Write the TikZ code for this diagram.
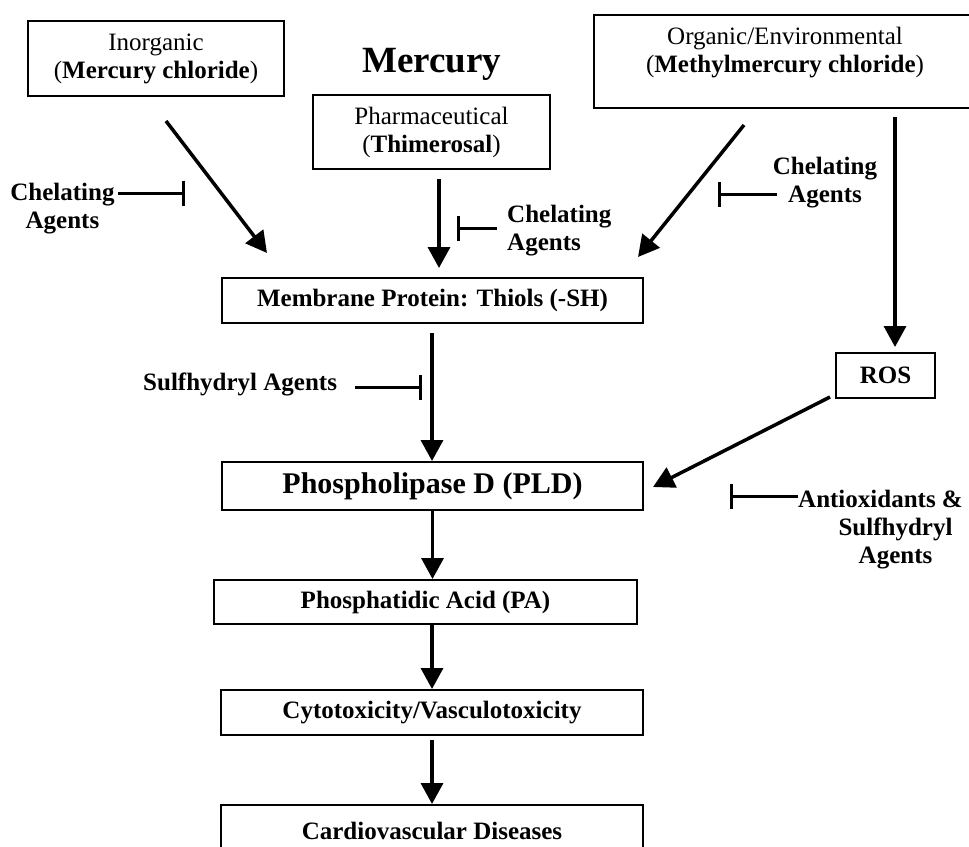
\documentclass[tikz,border=0pt]{standalone}
\usepackage{fontspec}
\setmainfont{Liberation Serif}
\usetikzlibrary{arrows.meta}
\begin{document}
\begin{tikzpicture}[x=1pt,y=-1pt,
  box/.style={draw, line width=2pt, inner sep=0pt, align=center, font=\fontsize{25}{28}\selectfont},
  bbox/.style={box, font=\bfseries\fontsize{25}{28}\selectfont},
  lbl/.style={inner sep=0pt, font=\bfseries\fontsize{25}{28}\selectfont},
  arr/.style={line width=3.5pt, -{Triangle[length=21pt,width=22pt]}},
  inh/.style={line width=3pt, -{Bar[width=25pt]}},
]
\useasboundingbox (0,0) rectangle (969,846);

% boxes
\node[box, minimum width=256pt, minimum height=75pt] (inorg) at (156,58.5) {Inorganic\\(\textbf{Mercury chloride})};
\node[lbl, anchor=base west, font=\bfseries\fontsize{37}{40}\selectfont] (title) at (362,72) {Mercury};
\node[box, minimum width=237pt, minimum height=74pt] (thim) at (431.5,132) {Pharmaceutical\\(\textbf{Thimerosal})};
\node[box, minimum width=381pt, minimum height=93pt] (org) at (784.5,61.5) {};
\node[inner sep=0pt, align=center, font=\fontsize{25}{28}\selectfont] (orgtxt) at (785,53) {Organic/Environmental\\(\textbf{Methylmercury chloride})};
\node[bbox, minimum width=421pt, minimum height=45pt] (mem) at (432.5,300.5) {Membrane Protein: Thiols (-SH)};
\node[bbox, minimum width=99pt, minimum height=45pt] (ros) at (885.5,375.5) {ROS};
\node[bbox, minimum width=421pt, minimum height=48pt, font=\bfseries\fontsize{30}{34}\selectfont] (pld) at (432.5,486) {Phospholipase D (PLD)};
\node[bbox, minimum width=423pt, minimum height=44pt] (pa) at (425.5,602) {Phosphatidic Acid (PA)};
\node[bbox, minimum width=422pt, minimum height=45pt] (cyto) at (432,712.5) {Cytotoxicity/Vasculotoxicity};
\node[bbox, minimum width=422pt, minimum height=52pt] (cardio) at (432,831) {Cardiovascular Diseases};

% inhibitor labels
\node[lbl, align=center, anchor=north] (chL) at (62.5,183) {Chelating\\Agents};
\node[lbl, align=left, anchor=north west] (chM) at (507,205) {Chelating\\Agents};
\node[lbl, align=center, anchor=north] (chR) at (825,157) {Chelating\\Agents};
\node[lbl, anchor=base west] (sulf) at (143,390) {Sulfhydryl Agents};
\node[lbl, align=center, anchor=north west] (anti) at (798,490) {Antioxidants \&\\\hspace*{30pt}Sulfhydryl\\\hspace*{30pt}Agents};

% connector end points
\coordinate (a1s) at (166,121);
\coordinate (a1e) at (267,253);
\coordinate (a2s) at (439,179);
\coordinate (a2e) at (439,268);
\coordinate (a3s) at (744,125);
\coordinate (a3e) at (638,257);
\coordinate (a4s) at (895,117);
\coordinate (a4e) at (895,347);
\coordinate (a5s) at (432,333);
\coordinate (a6s) at (830,397);
\coordinate (a6e) at (653,487);
\coordinate (a9s) at (432,740);

\coordinate (iL1) at (118,193);  \coordinate (iL2) at (185,193);
\coordinate (iM1) at (497,228);  \coordinate (iM2) at (457,228);
\coordinate (iR1) at (777,194);  \coordinate (iR2) at (718,194);
\coordinate (iS1) at (355,387);  \coordinate (iS2) at (422,387);
\coordinate (iA1) at (798,496);  \coordinate (iA2) at (730,496);

% arrows
\draw[arr] (a1s) -- (a1e);
\draw[arr] (a2s) -- (a2e);
\draw[arr] (a3s) -- (a3e);
\draw[arr] (a4s) -- (a4e);
\draw[arr] (a5s) -- (a5s |- pld.north);
\draw[arr] (a6s) -- (a6e);
\draw[arr] (pld.south) -- (pld.south |- pa.north);
\draw[arr] (cyto.north |- pa.south) -- (cyto.north);
\draw[arr] (a9s) -- (cardio.north);

% inhibitions
\draw[inh] (iL1) -- (iL2);
\draw[inh] (iM1) -- (iM2);
\draw[inh] (iR1) -- (iR2);
\draw[inh] (iS1) -- (iS2);
\draw[inh] (iA1) -- (iA2);
\end{tikzpicture}
\end{document}
